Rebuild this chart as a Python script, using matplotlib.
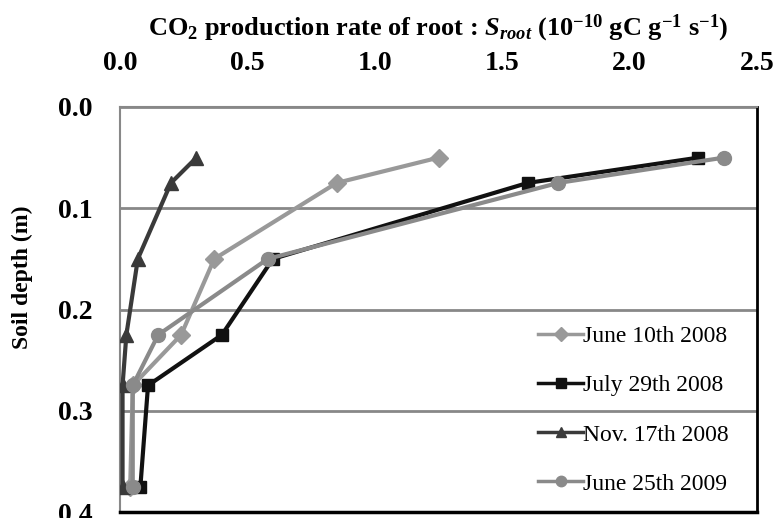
import matplotlib
matplotlib.use("Agg")
import matplotlib.pyplot as plt

depth = [0.05, 0.075, 0.15, 0.225, 0.275, 0.375]
june2008 = [1.25, 0.85, 0.37, 0.24, 0.05, 0.04]
july2008 = [2.27, 1.60, 0.60, 0.40, 0.11, 0.08]
nov2008 = [0.30, 0.20, 0.07, 0.025, 0.01, 0.01]
june2009 = [2.37, 1.72, 0.58, 0.15, 0.05, 0.05]
labels = ["June 10th 2008", "July 29th 2008", "Nov. 17th 2008", "June 25th 2009"]
xticks = [0.0, 0.5, 1.0, 1.5, 2.0, 2.5]
yticks = [0.0, 0.1, 0.2, 0.3, 0.4]

plt.rcParams['font.family'] = ['Liberation Serif', 'DejaVu Serif']
plt.rcParams['mathtext.fontset'] = 'custom'
plt.rcParams['mathtext.rm'] = 'Liberation Serif:bold'
plt.rcParams['mathtext.it'] = 'Liberation Serif:bold:italic'
plt.rcParams['mathtext.bf'] = 'Liberation Serif:bold'

fig = plt.figure(figsize=(7.77, 5.18), dpi=100)
ax = fig.add_axes([120/777, 1-512/518, (757-120)/777, (512-107)/518])

series = [
    (june2008, '#999999', 'D', 9),
    (july2008, '#111111', 's', 9),
    (nov2008, '#3a3a3a', '^', 10),
    (june2009, '#8a8a8a', 'o', 10),
]
for (vals, col, mk, ms), lab in zip(series, labels):
    ax.plot(vals, depth, color=col, lw=3, marker=mk, markersize=ms,
            markerfacecolor=col, markeredgecolor=col, label=lab, zorder=3)

ax.set_xlim(0, 2.5)
ax.set_ylim(0.4, 0.0)
ax.set_xticks(xticks)
ax.set_yticks(yticks)
ax.set_xticklabels([f"{v:.1f}" for v in xticks], fontsize=20, fontweight='bold')
ax.set_yticklabels([f"{v:.1f}" for v in yticks], fontsize=20, fontweight='bold')
ax.xaxis.tick_top()
ax.tick_params(axis='x', length=0, pad=22)
ax.tick_params(axis='y', length=0, pad=20)
ax.yaxis.grid(True, color='#888888', lw=2)
ax.set_axisbelow(True)

ax.spines['left'].set_color('#888888')
ax.spines['left'].set_linewidth(1.5)
ax.spines['top'].set_color('#888888')
ax.spines['top'].set_linewidth(1.5)
ax.spines['right'].set_color('black')
ax.spines['right'].set_linewidth(2)
ax.spines['bottom'].set_color('black')
ax.spines['bottom'].set_linewidth(2.5)

ax.set_ylabel("Soil depth (m)", fontsize=17, fontweight='bold')
ax.yaxis.set_label_coords(-87/637, 0.58)

fig.text(438/777, 1-28/518,
         r"CO$_{\mathregular{2}}$ production rate of root : $S_{root}$ (10$^{\mathregular{-10}}$ gC g$^{\mathregular{-1}}$ s$^{\mathregular{-1}}$)",
         ha='center', va='center', fontsize=19, fontweight='bold')

leg = ax.legend(loc='lower right', frameon=False, fontsize=17, handlelength=1.9,
                handletextpad=0.0, labelspacing=1.17, borderaxespad=0.5,
                bbox_to_anchor=(1 - 7/637, -4/405),
                markerscale=0.75)
for h in leg.get_lines():
    h.set_linewidth(2.5)

fig.savefig("out.png", dpi=100)
